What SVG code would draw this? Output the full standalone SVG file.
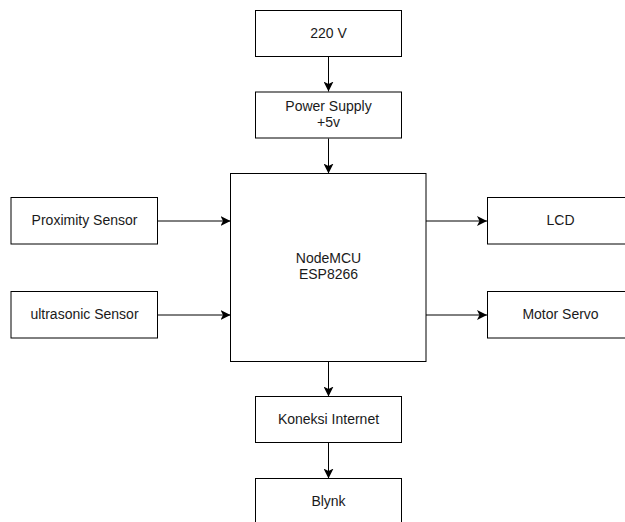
<svg xmlns="http://www.w3.org/2000/svg" width="625" height="522" viewBox="0 0 625 522">
<style>
.box{fill:#fff;stroke:#000;stroke-width:1}
.t{font-family:"Liberation Sans",Arial,sans-serif;font-size:14px;fill:#1a1a1a;text-anchor:middle}
.c{fill:none;stroke:#000;stroke-width:1}
</style>
<defs>
<marker id="ah" viewBox="0 0 10 10" refX="10" refY="5" markerWidth="10" markerHeight="10" markerUnits="userSpaceOnUse" orient="auto">
<path d="M0,0 L10,5 L0,10 L2.5,5 Z" fill="#000"/>
</marker>
</defs>
<rect width="625" height="522" fill="#fff"/>
<g id="connectors">
<path class="c" d="M328.5,56.5 V91.5" marker-end="url(#ah)"/>
<path class="c" d="M328.5,138.5 V173.5" marker-end="url(#ah)"/>
<path class="c" d="M157.5,221 H230.5" marker-end="url(#ah)"/>
<path class="c" d="M157.5,315 H230.5" marker-end="url(#ah)"/>
<path class="c" d="M426,221 H487" marker-end="url(#ah)"/>
<path class="c" d="M426,315 H487" marker-end="url(#ah)"/>
<path class="c" d="M328.5,361.5 V396.5" marker-end="url(#ah)"/>
<path class="c" d="M328.5,442.5 V478.5" marker-end="url(#ah)"/>
</g>
<g id="n220v"><rect class="box" x="255.5" y="10.5" width="146" height="46"/><text class="t" x="328.5" y="37.5">220 V</text></g>
<g id="psu"><rect class="box" x="255.5" y="92" width="146" height="46"/><text class="t" x="328.5" y="110.5">Power Supply</text><text class="t" x="328.5" y="126.5">+5v</text></g>
<g id="mcu"><rect class="box" x="230.5" y="173.5" width="195.5" height="188"/><text class="t" x="328.5" y="262.5">NodeMCU</text><text class="t" x="328.5" y="278.5">ESP8266</text></g>
<g id="prox"><rect class="box" x="11" y="197.5" width="146.5" height="46.5"/><text class="t" x="84.5" y="224.5">Proximity Sensor</text></g>
<g id="ultra"><rect class="box" x="11" y="291.5" width="146.5" height="46.5"/><text class="t" x="84.5" y="318.5">ultrasonic Sensor</text></g>
<g id="lcd"><rect class="box" x="487.5" y="197.5" width="146" height="46.5"/><text class="t" x="560.5" y="224.5">LCD</text></g>
<g id="servo"><rect class="box" x="487.5" y="291.5" width="146" height="46.5"/><text class="t" x="560.5" y="318.5">Motor Servo</text></g>
<g id="inet"><rect class="box" x="255.5" y="396.5" width="146" height="46"/><text class="t" x="328.5" y="423.5">Koneksi Internet</text></g>
<g id="blynk"><rect class="box" x="255.5" y="478.5" width="146" height="46"/><text class="t" x="328.5" y="505.5">Blynk</text></g>
</svg>
